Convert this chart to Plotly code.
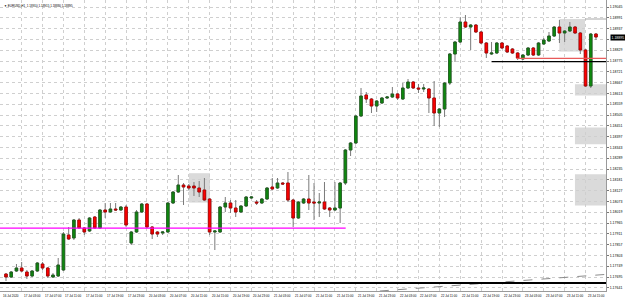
import plotly.graph_objects as go

# ---------------- data (EURUSD H1) ----------------
bar_index = list(range(114))
open_ = [1.17710,1.17695,1.17725,1.17740,1.17720,1.17700,1.17725,1.17760,1.17740,1.17695,
         1.17700,1.17730,1.17905,1.17890,1.17980,1.17940,1.17925,1.17995,1.17940,1.18030,
         1.18020,1.18035,1.18030,1.18045,1.17865,1.17920,1.18020,1.18060,1.17945,1.17920,
         1.17915,1.17920,1.18065,1.18120,1.18155,1.18150,1.18150,1.18140,1.18130,1.18085,
         1.17920,1.17920,1.18045,1.18065,1.18040,1.18020,1.18050,1.18090,1.18070,1.18065,
         1.18085,1.18145,1.18140,1.18165,1.18165,1.18080,1.17990,1.18065,1.18085,1.18070,
         1.18065,1.18070,1.18040,1.18030,1.18040,1.18165,1.18330,1.18365,1.18500,1.18605,
         1.18585,1.18550,1.18565,1.18590,1.18595,1.18610,1.18585,1.18640,1.18670,1.18640,
         1.18635,1.18635,1.18590,1.18515,1.18535,1.18665,1.18810,1.18870,1.18970,1.18945,
         1.18955,1.18920,1.18865,1.18810,1.18815,1.18865,1.18850,1.18835,1.18815,1.18785,
         1.18805,1.18840,1.18805,1.18860,1.18875,1.18900,1.18945,1.18915,1.18925,1.18945,
         1.18915,1.18830,1.18650,1.18910]
high_ = [1.17715,1.17725,1.17760,1.17770,1.17730,1.17730,1.17770,1.17770,1.17745,1.17715,
         1.17790,1.17920,1.17945,1.17985,1.17990,1.17945,1.17995,1.18000,1.18035,1.18065,
         1.18065,1.18065,1.18050,1.18055,1.17925,1.18030,1.18065,1.18065,1.17950,1.17925,
         1.17925,1.18070,1.18125,1.18205,1.18165,1.18160,1.18170,1.18175,1.18190,1.18090,
         1.17930,1.18050,1.18095,1.18080,1.18080,1.18055,1.18100,1.18100,1.18080,1.18090,
         1.18145,1.18190,1.18190,1.18170,1.18220,1.18085,1.18075,1.18090,1.18205,1.18165,
         1.18115,1.18170,1.18045,1.18170,1.18170,1.18335,1.18370,1.18505,1.18640,1.18620,
         1.18590,1.18580,1.18595,1.18600,1.18645,1.18615,1.18665,1.18685,1.18675,1.18660,
         1.18660,1.18640,1.18675,1.18540,1.18670,1.18815,1.18875,1.18995,1.19005,1.18960,
         1.18960,1.18925,1.18870,1.18870,1.18870,1.18870,1.18855,1.18840,1.18820,1.18810,
         1.18845,1.18845,1.18870,1.18890,1.18920,1.18950,1.18980,1.18930,1.18970,1.18950,
         1.18920,1.18835,1.18915,1.18915]
low_ = [1.17675,1.17690,1.17720,1.17720,1.17685,1.17695,1.17720,1.17730,1.17690,1.17690,
        1.17695,1.17725,1.17880,1.17880,1.17935,1.17905,1.17920,1.17935,1.17935,1.17990,
        1.18015,1.18025,1.18025,1.17945,1.17855,1.17915,1.18015,1.17940,1.17885,1.17895,
        1.17905,1.17915,1.18060,1.18115,1.18055,1.18130,1.18100,1.18095,1.18075,1.17905,
        1.17830,1.17915,1.18020,1.18015,1.17995,1.18015,1.18045,1.18085,1.18055,1.18060,
        1.18080,1.18130,1.18135,1.18155,1.18070,1.17945,1.17985,1.18060,1.18030,1.17980,
        1.17995,1.18030,1.17995,1.18025,1.17965,1.18155,1.18300,1.18360,1.18495,1.18565,
        1.18515,1.18520,1.18560,1.18585,1.18590,1.18580,1.18580,1.18635,1.18635,1.18615,
        1.18620,1.18515,1.18450,1.18445,1.18495,1.18655,1.18770,1.18865,1.18940,1.18830,
        1.18915,1.18860,1.18790,1.18805,1.18810,1.18835,1.18815,1.18810,1.18780,1.18780,
        1.18800,1.18800,1.18800,1.18855,1.18870,1.18895,1.18865,1.18870,1.18920,1.18910,
        1.18810,1.18645,1.18640,1.18880]
close_ = [1.17695,1.17720,1.17740,1.17725,1.17700,1.17725,1.17765,1.17740,1.17700,1.17705,
          1.17755,1.17910,1.17885,1.17980,1.17940,1.17920,1.17990,1.17940,1.18030,1.18020,
          1.18035,1.18030,1.18045,1.17955,1.17920,1.18020,1.18060,1.17945,1.17910,1.17910,
          1.17920,1.18065,1.18120,1.18155,1.18145,1.18140,1.18140,1.18120,1.18080,1.17920,
          1.17925,1.18045,1.18065,1.18040,1.18020,1.18050,1.18095,1.18095,1.18065,1.18085,
          1.18140,1.18135,1.18165,1.18160,1.18080,1.17990,1.18070,1.18085,1.18065,1.18065,
          1.18070,1.18035,1.18030,1.18040,1.18165,1.18330,1.18365,1.18500,1.18600,1.18585,
          1.18550,1.18575,1.18590,1.18595,1.18610,1.18590,1.18640,1.18670,1.18640,1.18635,
          1.18640,1.18590,1.18515,1.18535,1.18665,1.18810,1.18870,1.18970,1.18945,1.18955,
          1.18920,1.18865,1.18815,1.18815,1.18865,1.18840,1.18820,1.18815,1.18790,1.18805,
          1.18840,1.18805,1.18865,1.18880,1.18900,1.18945,1.18915,1.18925,1.18945,1.18915,
          1.18830,1.18650,1.18910,1.18895]

x_tick_idx = [-1, 3, 7, 11, 15, 19, 23, 27, 31, 35, 39, 43, 47, 51, 55, 59, 63, 67, 71,
              75, 79, 83, 87, 91, 95, 99, 103, 107, 111]
x_tick_labels = ["16 Jul 2020", "17 Jul 03:00", "17 Jul 07:00", "17 Jul 11:00", "17 Jul 15:00",
                 "17 Jul 19:00", "17 Jul 23:00", "20 Jul 03:00", "20 Jul 07:00", "20 Jul 11:00",
                 "20 Jul 15:00", "20 Jul 19:00", "20 Jul 23:00", "21 Jul 03:00", "21 Jul 07:00",
                 "21 Jul 11:00", "21 Jul 15:00", "21 Jul 19:00", "21 Jul 23:00", "22 Jul 03:00",
                 "22 Jul 07:00", "22 Jul 11:00", "22 Jul 15:00", "22 Jul 19:00", "22 Jul 23:00",
                 "23 Jul 03:00", "23 Jul 07:00", "23 Jul 11:00", "23 Jul 15:00"]
y_tick_vals = [1.19045, 1.18991, 1.18937, 1.18883, 1.18829, 1.18775, 1.18721, 1.18667,
               1.18613, 1.18559, 1.18505, 1.18451, 1.18397, 1.18343, 1.18289, 1.18235,
               1.18181, 1.18127, 1.18073, 1.18019, 1.17965, 1.17911, 1.17857, 1.17803,
               1.17749, 1.17695, 1.17641]
# the tick label hidden behind the current-price box is left blank
y_tick_labels = ["1.19045", "1.18991", "1.18937", "", "1.18829", "1.18775", "1.18721",
                 "1.18667", "1.18613", "1.18559", "1.18505", "1.18451", "1.18397", "1.18343",
                 "1.18289", "1.18235", "1.18181", "1.18127", "1.18073", "1.18019", "1.17965",
                 "1.17911", "1.17857", "1.17803", "1.17749", "1.17695", "1.17641"]

support_level = 1.17939       # magenta line
level_black = 1.18772
level_red = 1.18788
level_grey = 1.18985
level_bottom = 1.17665
trend_x = [71.6, 114.9]
trend_y = [1.17625, 1.17708]
zones = [  # (x0, x1, y0, y1)
    (35.05, 39.07, 1.18067, 1.18214),
    (105.97, 110.9, 1.18822, 1.18985),
    (108.97, 115.5, 1.18602, 1.18659),
    (108.97, 115.5, 1.18359, 1.18442),
    (108.97, 115.5, 1.18052, 1.18209),
]

X_MIN, X_MAX = -1.15, 114.92
Y_MIN, Y_MAX = 1.17625, 1.19080

fig = go.Figure()

# wicks (grey) + body
fig.add_trace(go.Candlestick(
    x=bar_index, open=open_, high=high_, low=low_, close=close_,
    increasing=dict(line=dict(color="#7a7a7a", width=1), fillcolor="#7a7a7a"),
    decreasing=dict(line=dict(color="#7a7a7a", width=1), fillcolor="#7a7a7a"),
    whiskerwidth=0, showlegend=False, hoverinfo="skip"))
body_hi = [max(o, c) for o, c in zip(open_, close_)]
body_lo = [min(o, c) for o, c in zip(open_, close_)]
fig.add_trace(go.Candlestick(
    x=bar_index, open=open_, high=body_hi, low=body_lo, close=close_,
    increasing=dict(line=dict(color="#1e5e1e", width=0.8), fillcolor="#0d8a0d"),
    decreasing=dict(line=dict(color="#b00000", width=0.8), fillcolor="#ff0000"),
    whiskerwidth=0, showlegend=False, hoverinfo="skip"))

# trend line (dashed grey)
fig.add_trace(go.Scatter(x=trend_x, y=trend_y, mode="lines",
                         line=dict(color="#8c8c8c", width=1, dash="dash"),
                         showlegend=False, hoverinfo="skip"))

shapes = []
for (x0, x1, y0, y1) in zones:
    shapes.append(dict(type="rect", xref="x", yref="y", x0=x0, x1=x1, y0=y0, y1=y1,
                       fillcolor="rgb(218,218,218)", line=dict(width=0), layer="below"))
shapes.append(dict(type="line", xref="x", yref="y", x0=X_MIN, x1=65.06,
                   y0=support_level, y1=support_level, line=dict(color="#ff00ff", width=1.3)))
shapes.append(dict(type="line", xref="x", yref="y", x0=93.0, x1=X_MAX,
                   y0=level_black, y1=level_black, line=dict(color="#000000", width=1.2)))
shapes.append(dict(type="line", xref="x", yref="y", x0=97.8, x1=X_MAX,
                   y0=level_red, y1=level_red, line=dict(color="#e85a5a", width=1.2)))
shapes.append(dict(type="line", xref="x", yref="y", x0=110.9, x1=X_MAX,
                   y0=level_grey, y1=level_grey, line=dict(color="#a8a8a8", width=1)))
shapes.append(dict(type="line", xref="x", yref="y", x0=X_MIN, x1=X_MAX,
                   y0=level_bottom, y1=level_bottom, line=dict(color="#000000", width=2)))

annotations = []
for xi, lab in zip(x_tick_idx, x_tick_labels):
    annotations.append(dict(x=xi, xref="x", y=-0.004, yref="paper", text=lab,
                            showarrow=False, xanchor="left", yanchor="top",
                            font=dict(size=3, color="#000000", family="Arial")))
annotations.append(dict(x=0.004, xref="paper", y=0.992, yref="paper",
                        text="▼ EURUSD,H1  1.18910 1.18915 1.18880 1.18895",
                        showarrow=False, xanchor="left", yanchor="top",
                        font=dict(size=3, color="#000000", family="Arial")))
annotations.append(dict(x=1.0, xref="paper", y=close_[-1], yref="y",
                        text="%.5f" % close_[-1], showarrow=False, xanchor="left",
                        yanchor="middle", xshift=4, bgcolor="#000000",
                        font=dict(size=3.5, color="#ffffff", family="Arial"), borderpad=0.5))

fig.update_layout(
    width=625, height=298,
    margin=dict(l=0, r=19, t=0, b=7),
    paper_bgcolor="white", plot_bgcolor="white",
    shapes=shapes, annotations=annotations,
    xaxis=dict(range=[X_MIN, X_MAX], tickvals=x_tick_idx, showticklabels=False,
               showgrid=True, gridcolor="#cfcfcf", griddash="dot", gridwidth=1,
               zeroline=False, showline=True, linecolor="#9a9a9a", mirror=True,
               rangeslider=dict(visible=False), fixedrange=True),
    yaxis=dict(range=[Y_MIN, Y_MAX], side="right", tickvals=y_tick_vals,
               ticktext=y_tick_labels, showgrid=True, gridcolor="#cfcfcf", griddash="dot",
               gridwidth=1, zeroline=False, showline=True, linecolor="#9a9a9a", mirror=True,
               ticks="outside", ticklen=2, tickcolor="#777777",
               tickfont=dict(size=3.5, color="#000000", family="Arial")),
)

fig.write_html("out.html")
